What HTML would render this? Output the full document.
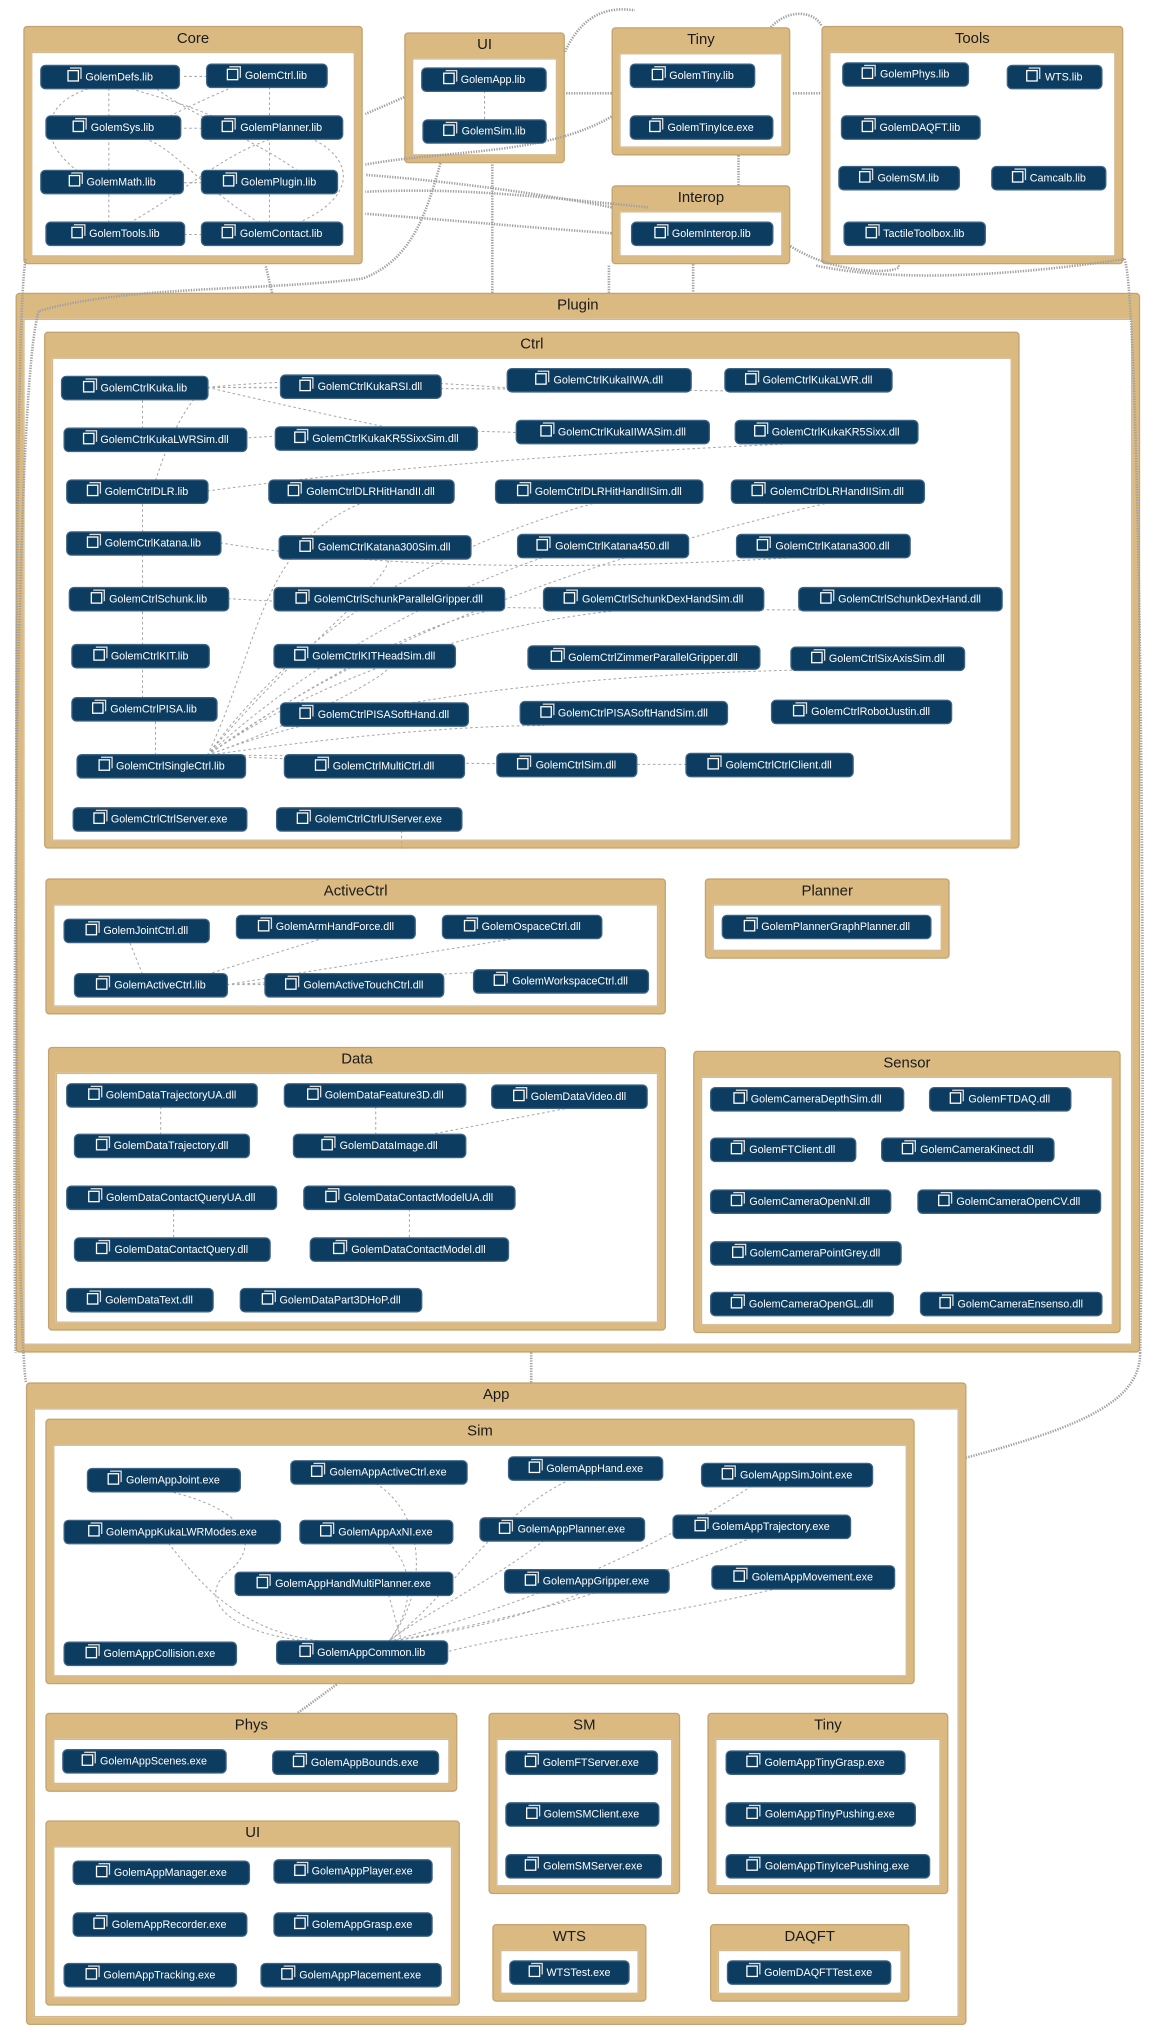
<!DOCTYPE html>
<html><head><meta charset="utf-8"><style>
html,body{margin:0;padding:0;background:#fff;width:1166px;height:2038px;overflow:hidden}
#c{position:absolute;left:0;top:0;width:900px;height:1573px;transform:scale(1.2956);transform-origin:0 0;font-family:"Liberation Sans","DejaVu Sans",sans-serif}
.g{position:absolute;background:#dbba82;border:1px solid #c4a271;border-radius:3px;box-sizing:border-box}
.g>.t{text-align:center;font-size:11.5px;line-height:19px;color:#1a1a1a}
.g>.w{position:absolute;left:5px;right:5px;top:19px;bottom:5px;background:#fff;border:1px solid #d2b790}
.n{position:absolute;height:17px;background:#0d3c61;color:#fff;border-radius:3px;font-size:8.3px;line-height:17px;text-align:center;white-space:nowrap;box-shadow:0 0 0 1px #3d6384}
.n i{display:inline-block;width:7px;height:7px;border:1px solid #fff;margin-right:5px;vertical-align:-1px;box-shadow:1.5px -1.5px 0 -0.5px #0d3c61,2px -2px 0 0 #ddd}
svg{position:absolute;left:0;top:0}
</style></head><body><div id="c">
<!-- top groups -->
<div class="g" style="left:18px;top:20px;width:262px;height:184px"><div class="t">Core</div><div class="w"></div></div>
<div class="g" style="left:312px;top:25px;width:124px;height:101px"><div class="t">UI</div><div class="w"></div></div>
<div class="g" style="left:472px;top:21px;width:138px;height:99px"><div class="t">Tiny</div><div class="w"></div></div>
<div class="g" style="left:634px;top:20px;width:233px;height:184px"><div class="t">Tools</div><div class="w"></div></div>
<div class="g" style="left:472px;top:143px;width:138px;height:61px"><div class="t">Interop</div><div class="w"></div></div>
<!-- Plugin -->
<div class="g" style="left:12px;top:226px;width:868px;height:818px"><div class="t">Plugin</div><div class="w"></div></div>
<div class="g" style="left:34px;top:256px;width:753px;height:399px"><div class="t">Ctrl</div><div class="w"></div></div>
<div class="g" style="left:35px;top:678px;width:479px;height:105px"><div class="t">ActiveCtrl</div><div class="w"></div></div>
<div class="g" style="left:544px;top:678px;width:189px;height:62px"><div class="t">Planner</div><div class="w"></div></div>
<div class="g" style="left:37px;top:808px;width:477px;height:219px"><div class="t">Data</div><div class="w"></div></div>
<div class="g" style="left:535px;top:811px;width:330px;height:218px"><div class="t">Sensor</div><div class="w"></div></div>
<!-- App -->
<div class="g" style="left:20px;top:1067px;width:726px;height:496px"><div class="t">App</div><div class="w"></div></div>
<div class="g" style="left:35px;top:1095px;width:671px;height:205px"><div class="t">Sim</div><div class="w"></div></div>
<div class="g" style="left:35px;top:1322px;width:318px;height:61px"><div class="t">Phys</div><div class="w"></div></div>
<div class="g" style="left:377px;top:1322px;width:148px;height:140px"><div class="t">SM</div><div class="w"></div></div>
<div class="g" style="left:546px;top:1322px;width:186px;height:140px"><div class="t">Tiny</div><div class="w"></div></div>
<div class="g" style="left:35px;top:1405px;width:320px;height:143px"><div class="t">UI</div><div class="w"></div></div>
<div class="g" style="left:380px;top:1485px;width:119px;height:60px"><div class="t">WTS</div><div class="w"></div></div>
<div class="g" style="left:548px;top:1485px;width:154px;height:60px"><div class="t">DAQFT</div><div class="w"></div></div>

<svg width="900" height="1573" viewBox="0 0 900 1573" fill="none">
<g stroke="#a8a8a8" stroke-width="0.8" stroke-dasharray="2,2">
<path d="M160 59H140M208 67V90M84 90V68M84 132V107M208 132V107M208 172V149M84 172V149M156 181H142M156 141H141M156 99H139"/>
<path d="M180 67C150 80 130 90 110 100M200 107C150 80 120 75 100 68M230 132C200 110 150 90 120 68M200 172C150 140 130 110 110 107M60 132C30 110 30 80 70 68M100 172C140 150 170 120 210 107M230 172C280 150 270 120 240 107"/>
<path d="M374 70V93M160 299H240M160 299C250 290 350 295 420 302M160 299C300 300 450 300 580 302M110 331V308M160 299C250 320 300 330 300 330M120 371C130 340 140 320 150 308M110 411V388M110 454V428M110 498V471M110 539V515M120 583V556M160 583C250 570 350 560 420 560M160 583H230M160 583C300 590 420 590 540 590M160 583C250 520 380 480 480 471M160 583C250 500 360 450 420 430M160 583C230 500 300 450 300 431M160 583C250 520 330 480 380 471M160 583C250 550 300 520 300 515M160 583C300 530 500 520 620 517M160 583C200 500 200 420 280 388M160 583C250 460 380 410 460 388M160 583C300 480 500 420 640 388M170 419C300 440 450 440 620 430M176 462C300 470 500 470 650 471M160 379C300 360 450 350 620 342M160 340C300 330 420 330 480 342"/>
<path d="M110 752L100 727M160 752L250 724M175 760L400 724M175 760H205M175 760L400 749M124 854V876M290 854V876M440 855L330 876M134 933V956M316 933V956M310 655V640"/>
<path d="M130 1151C190 1165 200 1190 180 1210C150 1230 170 1260 240 1267M130 1191C160 1230 190 1260 250 1267M300 1231L310 1267M290 1145C330 1170 330 1230 300 1267M300 1191C320 1210 320 1240 300 1267M440 1142C380 1170 350 1230 300 1267M420 1189C380 1220 320 1250 300 1267M580 1147C500 1200 400 1240 300 1267M580 1187C500 1220 400 1250 300 1267M450 1229C400 1250 350 1260 300 1267M600 1226C500 1250 400 1260 345 1275"/>
</g>
<g stroke="#a0a0a0" stroke-width="2" stroke-dasharray="1,1">
<path d="M312 75L282 88M472 90C420 120 350 115 282 127M472 160C420 150 350 140 282 135M500 160C400 150 350 145 282 148M472 180C400 175 350 170 282 165M380 226V126M340 126C330 160 320 200 280 215C200 225 100 220 30 240C10 300 10 900 12 1044M210 226L205 205M570 143V120M535 204V226M470 226V204M610 190C650 215 700 210 693 205M612 72H634M472 72H436M436 40C450 10 470 5 490 8M595 21C610 5 630 10 634 20M20 200C10 230 10 1000 20 1067M868 200C880 230 885 800 880 1044M880 1044C880 1080 840 1100 746 1125M410 1067V1044M230 1322L260 1300M630 205C700 220 800 210 868 200"/>
</g>
</svg>

<!-- Core nodes -->
<div class="n" style="left:32px;top:51px;width:106px"><i></i>GolemDefs.lib</div>
<div class="n" style="left:160px;top:50px;width:92px"><i></i>GolemCtrl.lib</div>
<div class="n" style="left:36px;top:90px;width:103px"><i></i>GolemSys.lib</div>
<div class="n" style="left:156px;top:90px;width:108px"><i></i>GolemPlanner.lib</div>
<div class="n" style="left:32px;top:132px;width:109px"><i></i>GolemMath.lib</div>
<div class="n" style="left:156px;top:132px;width:104px"><i></i>GolemPlugin.lib</div>
<div class="n" style="left:36px;top:172px;width:106px"><i></i>GolemTools.lib</div>
<div class="n" style="left:156px;top:172px;width:108px"><i></i>GolemContact.lib</div>
<div class="n" style="left:326px;top:53px;width:95px"><i></i>GolemApp.lib</div>
<div class="n" style="left:327px;top:93px;width:94px"><i></i>GolemSim.lib</div>
<div class="n" style="left:487px;top:50px;width:95px"><i></i>GolemTiny.lib</div>
<div class="n" style="left:487px;top:90px;width:109px"><i></i>GolemTinyIce.exe</div>
<div class="n" style="left:651px;top:49px;width:96px"><i></i>GolemPhys.lib</div>
<div class="n" style="left:778px;top:51px;width:72px"><i></i>WTS.lib</div>
<div class="n" style="left:650px;top:90px;width:106px"><i></i>GolemDAQFT.lib</div>
<div class="n" style="left:648px;top:129px;width:92px"><i></i>GolemSM.lib</div>
<div class="n" style="left:766px;top:129px;width:87px"><i></i>Camcalb.lib</div>
<div class="n" style="left:652px;top:172px;width:108px"><i></i>TactileToolbox.lib</div>
<div class="n" style="left:488px;top:172px;width:108px"><i></i>GolemInterop.lib</div>
<!-- Ctrl -->
<div class="n" style="left:48px;top:291px;width:112px"><i></i>GolemCtrlKuka.lib</div>
<div class="n" style="left:217px;top:290px;width:123px"><i></i>GolemCtrlKukaRSI.dll</div>
<div class="n" style="left:392px;top:285px;width:141px"><i></i>GolemCtrlKukaIIWA.dll</div>
<div class="n" style="left:560px;top:285px;width:128px"><i></i>GolemCtrlKukaLWR.dll</div>
<div class="n" style="left:50px;top:331px;width:140px"><i></i>GolemCtrlKukaLWRSim.dll</div>
<div class="n" style="left:213px;top:330px;width:155px"><i></i>GolemCtrlKukaKR5SixxSim.dll</div>
<div class="n" style="left:399px;top:325px;width:148px"><i></i>GolemCtrlKukaIIWASim.dll</div>
<div class="n" style="left:568px;top:325px;width:140px"><i></i>GolemCtrlKukaKR5Sixx.dll</div>
<div class="n" style="left:52px;top:371px;width:108px"><i></i>GolemCtrlDLR.lib</div>
<div class="n" style="left:208px;top:371px;width:142px"><i></i>GolemCtrlDLRHitHandII.dll</div>
<div class="n" style="left:383px;top:371px;width:159px"><i></i>GolemCtrlDLRHitHandIISim.dll</div>
<div class="n" style="left:565px;top:371px;width:148px"><i></i>GolemCtrlDLRHandIISim.dll</div>
<div class="n" style="left:52px;top:411px;width:118px"><i></i>GolemCtrlKatana.lib</div>
<div class="n" style="left:216px;top:414px;width:147px"><i></i>GolemCtrlKatana300Sim.dll</div>
<div class="n" style="left:400px;top:413px;width:131px"><i></i>GolemCtrlKatana450.dll</div>
<div class="n" style="left:569px;top:413px;width:133px"><i></i>GolemCtrlKatana300.dll</div>
<div class="n" style="left:54px;top:454px;width:122px"><i></i>GolemCtrlSchunk.lib</div>
<div class="n" style="left:212px;top:454px;width:177px"><i></i>GolemCtrlSchunkParallelGripper.dll</div>
<div class="n" style="left:420px;top:454px;width:169px"><i></i>GolemCtrlSchunkDexHandSim.dll</div>
<div class="n" style="left:617px;top:454px;width:156px"><i></i>GolemCtrlSchunkDexHand.dll</div>
<div class="n" style="left:56px;top:498px;width:105px"><i></i>GolemCtrlKIT.lib</div>
<div class="n" style="left:212px;top:498px;width:139px"><i></i>GolemCtrlKITHeadSim.dll</div>
<div class="n" style="left:408px;top:499px;width:178px"><i></i>GolemCtrlZimmerParallelGripper.dll</div>
<div class="n" style="left:611px;top:500px;width:133px"><i></i>GolemCtrlSixAxisSim.dll</div>
<div class="n" style="left:56px;top:539px;width:111px"><i></i>GolemCtrlPISA.lib</div>
<div class="n" style="left:217px;top:543px;width:144px"><i></i>GolemCtrlPISASoftHand.dll</div>
<div class="n" style="left:402px;top:542px;width:159px"><i></i>GolemCtrlPISASoftHandSim.dll</div>
<div class="n" style="left:596px;top:541px;width:138px"><i></i>GolemCtrlRobotJustin.dll</div>
<div class="n" style="left:60px;top:583px;width:129px"><i></i>GolemCtrlSingleCtrl.lib</div>
<div class="n" style="left:220px;top:583px;width:138px"><i></i>GolemCtrlMultiCtrl.dll</div>
<div class="n" style="left:384px;top:582px;width:107px"><i></i>GolemCtrlSim.dll</div>
<div class="n" style="left:530px;top:582px;width:128px"><i></i>GolemCtrlCtrlClient.dll</div>
<div class="n" style="left:57px;top:624px;width:133px"><i></i>GolemCtrlCtrlServer.exe</div>
<div class="n" style="left:214px;top:624px;width:142px"><i></i>GolemCtrlCtrlUIServer.exe</div>
<!-- ActiveCtrl / Planner -->
<div class="n" style="left:50px;top:710px;width:111px"><i></i>GolemJointCtrl.dll</div>
<div class="n" style="left:183px;top:707px;width:137px"><i></i>GolemArmHandForce.dll</div>
<div class="n" style="left:342px;top:707px;width:122px"><i></i>GolemOspaceCtrl.dll</div>
<div class="n" style="left:58px;top:752px;width:117px"><i></i>GolemActiveCtrl.lib</div>
<div class="n" style="left:205px;top:752px;width:137px"><i></i>GolemActiveTouchCtrl.dll</div>
<div class="n" style="left:366px;top:749px;width:134px"><i></i>GolemWorkspaceCtrl.dll</div>
<div class="n" style="left:558px;top:707px;width:160px"><i></i>GolemPlannerGraphPlanner.dll</div>
<!-- Data -->
<div class="n" style="left:52px;top:837px;width:146px"><i></i>GolemDataTrajectoryUA.dll</div>
<div class="n" style="left:220px;top:837px;width:139px"><i></i>GolemDataFeature3D.dll</div>
<div class="n" style="left:380px;top:838px;width:119px"><i></i>GolemDataVideo.dll</div>
<div class="n" style="left:58px;top:876px;width:134px"><i></i>GolemDataTrajectory.dll</div>
<div class="n" style="left:227px;top:876px;width:132px"><i></i>GolemDataImage.dll</div>
<div class="n" style="left:52px;top:916px;width:161px"><i></i>GolemDataContactQueryUA.dll</div>
<div class="n" style="left:235px;top:916px;width:162px"><i></i>GolemDataContactModelUA.dll</div>
<div class="n" style="left:58px;top:956px;width:150px"><i></i>GolemDataContactQuery.dll</div>
<div class="n" style="left:240px;top:956px;width:152px"><i></i>GolemDataContactModel.dll</div>
<div class="n" style="left:52px;top:995px;width:112px"><i></i>GolemDataText.dll</div>
<div class="n" style="left:186px;top:995px;width:139px"><i></i>GolemDataPart3DHoP.dll</div>
<!-- Sensor -->
<div class="n" style="left:549px;top:840px;width:148px"><i></i>GolemCameraDepthSim.dll</div>
<div class="n" style="left:718px;top:840px;width:108px"><i></i>GolemFTDAQ.dll</div>
<div class="n" style="left:549px;top:879px;width:111px"><i></i>GolemFTClient.dll</div>
<div class="n" style="left:681px;top:879px;width:132px"><i></i>GolemCameraKinect.dll</div>
<div class="n" style="left:549px;top:919px;width:138px"><i></i>GolemCameraOpenNI.dll</div>
<div class="n" style="left:709px;top:919px;width:140px"><i></i>GolemCameraOpenCV.dll</div>
<div class="n" style="left:549px;top:959px;width:146px"><i></i>GolemCameraPointGrey.dll</div>
<div class="n" style="left:549px;top:998px;width:140px"><i></i>GolemCameraOpenGL.dll</div>
<div class="n" style="left:711px;top:998px;width:139px"><i></i>GolemCameraEnsenso.dll</div>
<!-- Sim -->
<div class="n" style="left:68px;top:1134px;width:117px"><i></i>GolemAppJoint.exe</div>
<div class="n" style="left:225px;top:1128px;width:135px"><i></i>GolemAppActiveCtrl.exe</div>
<div class="n" style="left:393px;top:1125px;width:118px"><i></i>GolemAppHand.exe</div>
<div class="n" style="left:542px;top:1130px;width:131px"><i></i>GolemAppSimJoint.exe</div>
<div class="n" style="left:50px;top:1174px;width:166px"><i></i>GolemAppKukaLWRModes.exe</div>
<div class="n" style="left:232px;top:1174px;width:117px"><i></i>GolemAppAxNI.exe</div>
<div class="n" style="left:371px;top:1172px;width:126px"><i></i>GolemAppPlanner.exe</div>
<div class="n" style="left:520px;top:1170px;width:136px"><i></i>GolemAppTrajectory.exe</div>
<div class="n" style="left:182px;top:1214px;width:167px"><i></i>GolemAppHandMultiPlanner.exe</div>
<div class="n" style="left:390px;top:1212px;width:126px"><i></i>GolemAppGripper.exe</div>
<div class="n" style="left:550px;top:1209px;width:140px"><i></i>GolemAppMovement.exe</div>
<div class="n" style="left:50px;top:1268px;width:132px"><i></i>GolemAppCollision.exe</div>
<div class="n" style="left:214px;top:1267px;width:131px"><i></i>GolemAppCommon.lib</div>
<!-- Phys/SM/Tiny/UI/WTS/DAQFT -->
<div class="n" style="left:49px;top:1351px;width:125px"><i></i>GolemAppScenes.exe</div>
<div class="n" style="left:211px;top:1352px;width:127px"><i></i>GolemAppBounds.exe</div>
<div class="n" style="left:391px;top:1352px;width:116px"><i></i>GolemFTServer.exe</div>
<div class="n" style="left:391px;top:1392px;width:117px"><i></i>GolemSMClient.exe</div>
<div class="n" style="left:391px;top:1432px;width:119px"><i></i>GolemSMServer.exe</div>
<div class="n" style="left:561px;top:1352px;width:137px"><i></i>GolemAppTinyGrasp.exe</div>
<div class="n" style="left:561px;top:1392px;width:145px"><i></i>GolemAppTinyPushing.exe</div>
<div class="n" style="left:561px;top:1432px;width:156px"><i></i>GolemAppTinyIcePushing.exe</div>
<div class="n" style="left:57px;top:1437px;width:135px"><i></i>GolemAppManager.exe</div>
<div class="n" style="left:212px;top:1436px;width:121px"><i></i>GolemAppPlayer.exe</div>
<div class="n" style="left:57px;top:1477px;width:133px"><i></i>GolemAppRecorder.exe</div>
<div class="n" style="left:212px;top:1477px;width:121px"><i></i>GolemAppGrasp.exe</div>
<div class="n" style="left:50px;top:1516px;width:132px"><i></i>GolemAppTracking.exe</div>
<div class="n" style="left:202px;top:1516px;width:138px"><i></i>GolemAppPlacement.exe</div>
<div class="n" style="left:394px;top:1514px;width:91px"><i></i>WTSTest.exe</div>
<div class="n" style="left:562px;top:1514px;width:125px"><i></i>GolemDAQFTTest.exe</div>
</div></body></html>
